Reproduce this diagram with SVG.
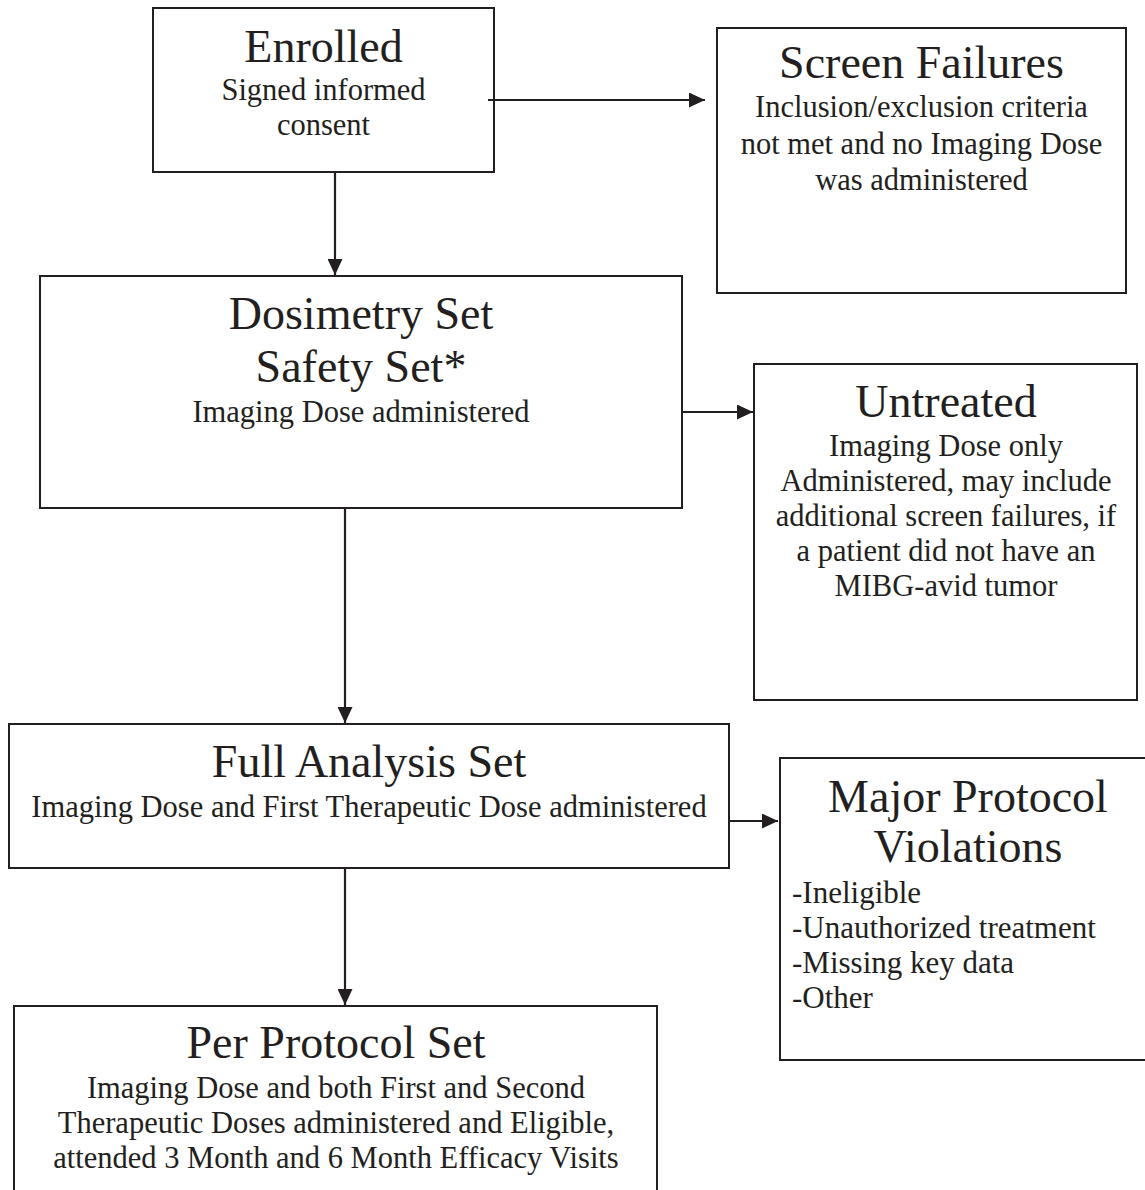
<svg xmlns="http://www.w3.org/2000/svg" width="1145" height="1190" viewBox="0 0 1145 1190">
<style>
.box{fill:#fff;stroke:#231f20;stroke-width:2}
.t{font-family:"Liberation Serif","Times New Roman",serif;font-size:46px;fill:#231f20;text-anchor:middle}
.s{font-family:"Liberation Serif","Times New Roman",serif;font-size:30.5px;fill:#231f20;text-anchor:middle}
.l{font-family:"Liberation Serif","Times New Roman",serif;font-size:31px;fill:#231f20}
.c{stroke:#231f20;stroke-width:2.2;fill:none;marker-end:url(#ah)}
</style>
<defs>
<marker id="ah" markerUnits="userSpaceOnUse" markerWidth="17" markerHeight="15" refX="16" refY="7.5" orient="auto">
<path d="M0,0 L16,7.5 L0,15 z" fill="#231f20"/>
</marker>
</defs>
<rect width="1145" height="1190" fill="#fff"/>
<g id="enrolled">
<rect class="box" x="153" y="8" width="341" height="164"/>
<text class="t" x="323.5" y="62">Enrolled</text>
<text class="s" x="323.5" y="100">Signed informed</text>
<text class="s" x="323.5" y="135">consent</text>
</g>
<g id="screen-failures">
<rect class="box" x="717" y="28" width="409" height="265"/>
<text class="t" x="921.5" y="78">Screen Failures</text>
<text class="s" x="921.5" y="117">Inclusion/exclusion criteria</text>
<text class="s" x="921.5" y="154">not met and no Imaging Dose</text>
<text class="s" x="921.5" y="190">was administered</text>
</g>
<g id="dosimetry">
<rect class="box" x="40" y="276" width="642" height="232"/>
<text class="t" x="361" y="329">Dosimetry Set</text>
<text class="t" x="361" y="382">Safety Set*</text>
<text class="s" x="361" y="422">Imaging Dose administered</text>
</g>
<g id="untreated">
<rect class="box" x="754" y="364" width="383" height="336"/>
<text class="t" x="946" y="417">Untreated</text>
<text class="s" x="946" y="456">Imaging Dose only</text>
<text class="s" x="946" y="491">Administered, may include</text>
<text class="s" x="946" y="526">additional screen failures, if</text>
<text class="s" x="946" y="561">a patient did not have an</text>
<text class="s" x="946" y="596">MIBG-avid tumor</text>
</g>
<g id="full-analysis">
<rect class="box" x="9" y="724" width="720" height="144"/>
<text class="t" x="369" y="777">Full Analysis Set</text>
<text class="s" x="369" y="817">Imaging Dose and First Therapeutic Dose administered</text>
</g>
<g id="major-protocol-violations">
<rect class="box" x="780" y="758" width="380" height="302"/>
<text class="t" x="968" y="812">Major Protocol</text>
<text class="t" x="968" y="862">Violations</text>
<text class="l" x="792" y="903">-Ineligible</text>
<text class="l" x="792" y="938">-Unauthorized treatment</text>
<text class="l" x="792" y="973">-Missing key data</text>
<text class="l" x="792" y="1008">-Other</text>
</g>
<g id="per-protocol">
<rect class="box" x="14" y="1006" width="643" height="200"/>
<text class="t" x="336" y="1058">Per Protocol Set</text>
<text class="s" x="336" y="1098">Imaging Dose and both First and Second</text>
<text class="s" x="336" y="1133">Therapeutic Doses administered and Eligible,</text>
<text class="s" x="336" y="1168">attended 3 Month and 6 Month Efficacy Visits</text>
</g>
<g id="connectors">
<line class="c" x1="488" y1="100" x2="705" y2="100"/>
<line class="c" x1="335" y1="172" x2="335" y2="275"/>
<line class="c" x1="682" y1="412" x2="753" y2="412"/>
<line class="c" x1="345" y1="508" x2="345" y2="723"/>
<line class="c" x1="729" y1="821" x2="778" y2="821"/>
<line class="c" x1="345" y1="868" x2="345" y2="1005"/>
</g>
</svg>
